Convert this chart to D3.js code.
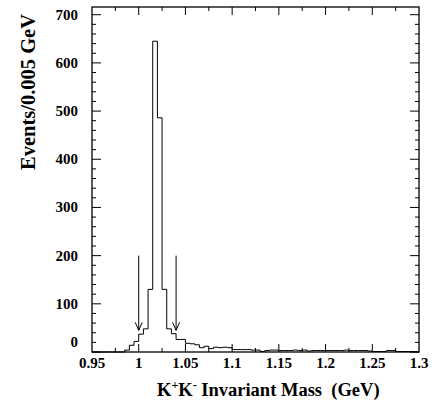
<!DOCTYPE html>
<html><head><meta charset="utf-8">
<script src="https://cdn.jsdelivr.net/npm/d3@7/dist/d3.min.js"></script>
<style>
body{margin:0;background:#fff;}
text{font-family:"Liberation Serif","Times New Roman",serif;font-weight:bold;fill:#000;white-space:pre;}
</style></head>
<body><svg id="c" width="437" height="403"></svg>
<script>
// Bin lower edges (GeV), width 0.005
const binStart = 0.95, binWidth = 0.005;
const counts = [
 0,0,0,0,0,0,0, 4,14,22,      // 0.950 - 0.995
 37,48,130,645,486,130,48,38,26,26, // 1.000 - 1.045
 18,17,15,9,12,7,10,9,10,9,   // 1.050 - 1.095
 5,5,5,5,4,4,1,3,4,4,         // 1.100 - 1.145
 3,3,3,4,3,4,2,3,3,3,         // 1.150 - 1.195
 3,3,3,3,4,3,3,3,3,2,         // 1.200 - 1.245
 1,1,1,3,3,1,1,1,1,0          // 1.250 - 1.295
];
const xTickLabels = ["0.95","1","1.05","1.1","1.15","1.2","1.25","1.3"];
const yTickLabels = ["0","100","200","300","400","500","600","700"];
const arrowX = [1.0, 1.04];
const arrowFrom = 200, arrowTo = 45;

const L=92, R=419, T=7, B=352;
const x = d3.scaleLinear().domain([0.95,1.3]).range([L,R]);
const y = d3.scaleLinear().domain([0,716]).range([B,T]);
const svg = d3.select("#c");

// histogram path
const pts = [[x(binStart), y(0)]];
counts.forEach((v,i)=>{
  const lo = binStart + i*binWidth, hi = lo + binWidth;
  pts.push([x(lo), y(v)], [x(hi), y(v)]);
});
svg.append("path").attr("d", d3.line()(pts)).attr("fill","none")
  .attr("stroke","#000").attr("stroke-width",1);

// frame
svg.append("rect").attr("x",L).attr("y",T).attr("width",R-L).attr("height",B-T)
  .attr("fill","none").attr("stroke","#000").attr("stroke-width",1.3);

// ticks
const g = svg.append("g").attr("stroke","#000").attr("stroke-width",1);
d3.range(0,15).forEach(i=>{
  const v = 0.95 + i*0.025, px = x(v), len = (i%2===0)?8:4;
  if(i===0||i===14) return;
  g.append("line").attr("x1",px).attr("x2",px).attr("y1",B).attr("y2",B-len);
  g.append("line").attr("x1",px).attr("x2",px).attr("y1",T).attr("y2",T+len);
});
d3.range(0,36).forEach(i=>{
  const v = i*20, py = y(v), len = (i%5===0)?9:4;
  if(v>716) return;
  g.append("line").attr("x1",L).attr("x2",L+len).attr("y1",py).attr("y2",py);
  g.append("line").attr("x1",R).attr("x2",R-len).attr("y1",py).attr("y2",py);
});

// tick labels
xTickLabels.forEach(t=>{
  svg.append("text").attr("x",x(+t)).attr("y",368).attr("text-anchor","middle")
    .attr("font-size",15).text(t);
});
yTickLabels.forEach(t=>{
  const v=+t;
  svg.append("text").attr("x",78).attr("y",y(v)+(v===0?-5:5)).attr("text-anchor","end")
    .attr("font-size",15).text(t);
});

// arrows
arrowX.forEach(a=>{
  const ax=x(a), y0=y(arrowFrom), y1=y(arrowTo);
  svg.append("line").attr("x1",ax).attr("x2",ax).attr("y1",y0).attr("y2",y1)
    .attr("stroke","#000").attr("stroke-width",1);
  svg.append("path").attr("d",`M${ax-3.5},${y1-8}L${ax},${y1}L${ax+3.5},${y1-8}`)
    .attr("fill","none").attr("stroke","#000").attr("stroke-width",1);
});

// axis titles
const xt = svg.append("text").attr("x",157).attr("y",396).attr("font-size",18.5);
xt.append("tspan").text("K");
xt.append("tspan").attr("dy",-7).attr("font-size",12).text("+");
xt.append("tspan").attr("dy",7).text("K");
xt.append("tspan").attr("dy",-7).attr("font-size",12).text("-");
xt.append("tspan").attr("dy",7).text(" Invariant Mass  (GeV)");
svg.append("text").attr("transform","translate(35,92) rotate(-90)")
  .attr("text-anchor","middle").attr("font-size",20.5).text("Events/0.005 GeV");
</script></body></html>
